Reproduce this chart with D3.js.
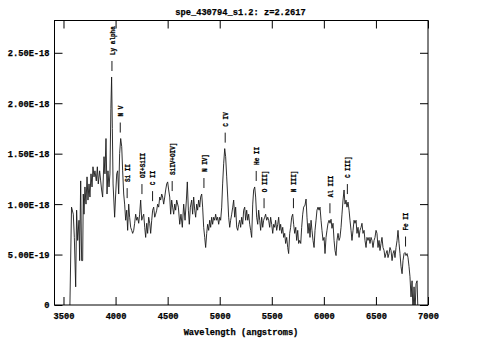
<!DOCTYPE html>
<html>
<head>
<meta charset="utf-8">
<script src="https://cdn.jsdelivr.net/npm/d3@7"></script>
<style>
  html, body { margin: 0; padding: 0; background: #fff; }
  svg { display: block; }
  text { font-family: "Liberation Mono", "DejaVu Sans Mono", monospace; font-weight: bold; fill: #000; stroke: #000; stroke-width: 0.25px; }
</style>
</head>
<body>
<svg id="chart" width="483" height="358"></svg>
<script>
// ---------------- data ----------------
const title = "spe_430794_s1.2: z=2.2617";
const redshift = 2.2617;
const xLabel = "Wavelength (angstroms)";
const fluxUnit = 1e-18;               // flux values below are in units of 1e-18
const xTicks = [3500, 4000, 4500, 5000, 5500, 6000, 6500, 7000];
const yTicks = [0, 0.5, 1.0, 1.5, 2.0, 2.5];

const lineNames = ["Ly alpha", "N V", "Si II", "OI+SiII", "C II", "SiIV+OIV]", "N IV]",
                   "C IV", "He II", "O III]", "N III]", "Al III", "C III]", "Fe II"];
const lineRest  = [1215.67, 1240.14, 1260.42, 1304.0, 1335.3, 1393.0, 1486.5,
                   1549.06, 1640.4, 1663.5, 1750.0, 1857.4, 1908.73, 2080.0];

const wavelength = [
3560,3577,3594,3604,3617,3626,3636,3649,3655,3665,3674,3684,3690,3697,3706,3716,3726,3735,3745,3754,
3764,3774,3783,3793,3802,3815,3825,3834,3847,3857,3866,3876,3889,3898,3908,3918,3927,3937,3946,3955,
3962,3969,3976,3991,4001,4011,4020,4030,4039,4049,4059,4068,4078,4087,4097,4107,4116,4126,4135,4145,
4155,4164,4174,4183,4193,4203,4212,4222,4231,4241,4251,4260,4270,4280,4289,4299,4308,4318,4328,4337,
4347,4356,4366,4376,4385,4395,4404,4414,4424,4433,4443,4452,4462,4472,4481,4491,4500,4510,4520,4529,
4539,4548,4558,4568,4577,4587,4603,4616,4628,4641,4654,4667,4680,4689,4699,4708,4718,4731,4740,4750,
4760,4769,4779,4788,4798,4808,4817,4827,4836,4846,4856,4865,4875,4884,4894,4904,4913,4923,4932,4942,
4952,4961,4971,4980,4990,5000,5009,5019,5028,5038,5048,5057,5067,5077,5086,5096,5105,5115,5125,5134,
5144,5153,5163,5173,5182,5192,5201,5211,5221,5230,5240,5249,5259,5269,5278,5288,5297,5307,5317,5326,
5336,5345,5355,5365,5374,5384,5393,5403,5413,5422,5432,5441,5451,5461,5470,5480,5489,5499,5509,5518,
5528,5537,5547,5557,5566,5576,5585,5595,5605,5614,5624,5633,5643,5653,5662,5672,5681,5691,5701,5710,
5720,5730,5739,5749,5758,5768,5778,5787,5797,5806,5819,5829,5838,5848,5858,5867,5877,5886,5896,5906,
5915,5925,5934,5944,5954,5963,5973,5982,5992,6002,6011,6021,6030,6040,6050,6059,6069,6078,6088,6098,
6107,6117,6126,6136,6146,6155,6165,6174,6184,6194,6203,6213,6222,6232,6242,6251,6261,6270,6280,6290,
6299,6309,6318,6328,6338,6347,6357,6366,6376,6386,6395,6405,6414,6424,6434,6443,6453,6462,6472,6482,
6491,6501,6510,6520,6530,6539,6549,6558,6568,6578,6587,6597,6607,6616,6626,6635,6645,6655,6664,6674,
6683,6693,6703,6712,6722,6731,6741,6751,6760,6770,6779,6789,6799,6808,6818,6827,6837,6847,6856,6866,
6875,6885,6895,6904,6911
];
const flux = [
-0.10,0.97,0.90,0.67,0.18,0.94,0.64,0.84,0.44,1.23,0.44,0.44,1.10,0.90,1.17,1.00,1.27,1.04,1.20,1.07,
1.30,1.17,1.37,1.27,1.33,1.23,1.37,1.20,1.33,1.23,1.14,1.07,1.47,1.30,1.65,1.10,1.33,1.17,1.30,1.95,
2.26,1.75,1.20,0.87,1.10,1.30,1.33,1.10,1.50,1.65,1.57,1.33,1.10,1.00,0.84,0.94,0.74,1.00,0.87,0.77,
0.74,0.71,0.74,0.81,0.90,0.84,0.87,0.81,0.90,1.04,0.84,0.87,0.90,0.77,0.67,0.81,0.71,0.87,0.81,0.71,
0.84,0.94,0.97,0.87,0.90,0.94,1.00,0.97,1.07,1.04,1.10,1.07,1.00,1.07,1.14,1.20,1.22,1.14,1.07,0.90,
1.04,0.97,0.90,1.00,0.94,1.04,0.97,0.80,0.90,0.77,1.00,0.84,1.04,1.22,0.94,0.80,0.97,1.04,0.90,1.07,
0.94,0.87,1.00,0.94,1.04,0.97,1.07,1.10,0.97,0.77,0.67,0.57,0.71,0.80,0.74,0.84,0.77,0.87,0.80,0.87,
0.84,0.90,0.84,0.87,0.80,0.87,0.84,0.97,1.20,1.40,1.55,1.47,1.27,1.07,0.87,0.77,0.84,0.90,0.97,1.04,
0.87,0.97,0.77,0.74,0.80,0.84,0.77,0.87,0.80,0.94,0.97,0.84,0.94,0.84,0.90,0.80,0.74,0.67,1.00,1.14,
1.17,1.07,0.87,0.80,0.94,0.84,0.74,0.87,0.77,0.84,0.87,0.90,0.84,0.87,0.84,0.77,0.87,0.80,0.71,0.80,
0.77,0.84,0.74,0.80,0.87,0.74,0.80,0.71,0.77,0.67,0.71,0.61,0.67,0.57,0.51,0.71,0.77,0.87,0.90,0.80,
0.71,0.77,0.64,0.74,0.61,0.64,0.61,0.77,0.90,0.97,0.99,1.05,0.87,0.71,0.81,0.67,0.84,0.74,0.64,0.57,
0.74,0.84,0.94,0.97,0.94,0.97,0.84,0.74,0.64,0.67,0.51,0.67,0.74,0.81,0.84,0.81,0.85,0.76,0.81,0.64,
0.54,0.49,0.64,0.71,0.64,0.67,0.77,0.90,1.04,1.14,1.00,1.04,0.97,1.02,0.94,0.84,0.74,0.64,0.74,0.84,
0.81,0.84,0.71,0.77,0.67,0.74,0.77,0.81,0.71,0.74,0.64,0.57,0.67,0.64,0.67,0.61,0.67,0.64,0.57,0.64,
0.67,0.74,0.71,0.57,0.64,0.54,0.61,0.67,0.57,0.54,0.47,0.51,0.54,0.47,0.51,0.57,0.54,0.44,0.51,0.54,
0.47,0.57,0.64,0.74,0.61,0.51,0.38,0.31,0.44,0.51,0.52,0.49,0.51,0.47,0.38,0.28,0.08,0.24,-0.09,0.18,
-0.09,0.21,0.24,-0.09,-0.09
];

// ---------------- layout ----------------
const L = 54.5, R = 428, T = 20.5, B = 305;
const svg = d3.select("#chart");
const x = d3.scaleLinear().domain([3413.6, 7000]).range([L, R]);
const y = d3.scaleLinear().domain([0, 2.82]).range([B, T]);
const fs = 8.7;

// clip
svg.append("defs").append("clipPath").attr("id", "clip")
  .append("rect").attr("x", L).attr("y", T).attr("width", R - L).attr("height", B - T);

// spectrum
const pts = wavelength.map((w, i) => [w, flux[i]]);
svg.append("path")
  .datum(pts)
  .attr("clip-path", "url(#clip)")
  .attr("fill", "none")
  .attr("stroke", "#1a1a1a")
  .attr("stroke-width", 0.9)
  .attr("d", d3.line().x(d => x(d[0])).y(d => y(d[1])));

// axes
function styleAxis(g) {
  g.select(".domain").remove();
  g.selectAll(".tick line").attr("stroke", "#000").attr("stroke-width", 1);
  g.selectAll(".tick text").style("font-size", fs + "px").attr("fill", "#000");
}
const yFmt = v => v === 0 ? "0" : (v * fluxUnit).toExponential(2).toUpperCase();

svg.append("g").attr("transform", `translate(${L},0)`)
  .call(d3.axisLeft(y).tickValues(yTicks).tickSize(-8).tickSizeOuter(0).tickPadding(5).tickFormat(yFmt))
  .call(styleAxis)
  .call(g => g.selectAll(".tick text").attr("dy", "0.34em"));
svg.append("g").attr("transform", `translate(${R},0)`)
  .call(d3.axisRight(y).tickValues(yTicks).tickSize(-8).tickSizeOuter(0).tickFormat(""))
  .call(styleAxis);
svg.append("g").attr("transform", `translate(0,${B})`)
  .call(d3.axisBottom(x).tickValues(xTicks).tickSize(-8).tickSizeOuter(0).tickPadding(8).tickFormat(d3.format("d")))
  .call(styleAxis);
svg.append("g").attr("transform", `translate(0,${T})`)
  .call(d3.axisTop(x).tickValues(xTicks).tickSize(-8).tickSizeOuter(0).tickFormat(""))
  .call(styleAxis);

// frame
svg.append("rect").attr("x", L).attr("y", T).attr("width", R - L).attr("height", B - T)
  .attr("fill", "none").attr("stroke", "#000").attr("stroke-width", 1);

// title and axis label
svg.append("text").attr("x", 240.5).attr("y", 14.5).attr("text-anchor", "middle")
  .style("font-size", fs + "px").text(title);
svg.append("text").attr("x", 241).attr("y", 335).attr("text-anchor", "middle")
  .style("font-size", fs + "px").text(xLabel);

// emission line labels
lineNames.forEach((name, i) => {
  const obs = lineRest[i] * (1 + redshift);
  let m = -Infinity;
  wavelength.forEach((w, j) => { if (Math.abs(w - obs) <= 25) m = Math.max(m, flux[j]); });
  const yb = y(m) - 6;
  const xp = x(obs);
  svg.append("line").attr("x1", xp).attr("x2", xp).attr("y1", yb).attr("y2", yb - 10)
    .attr("stroke", "#000").attr("stroke-width", 0.9);
  svg.append("text")
    .attr("transform", `translate(${xp},${yb - 16}) rotate(-90)`)
    .attr("dy", "0.35em")
    .attr("textLength", name.length * 3.6)
    .attr("lengthAdjust", "spacingAndGlyphs")
    .style("font-size", "7.5px")
    .text(name);
});
</script>
</body>
</html>
